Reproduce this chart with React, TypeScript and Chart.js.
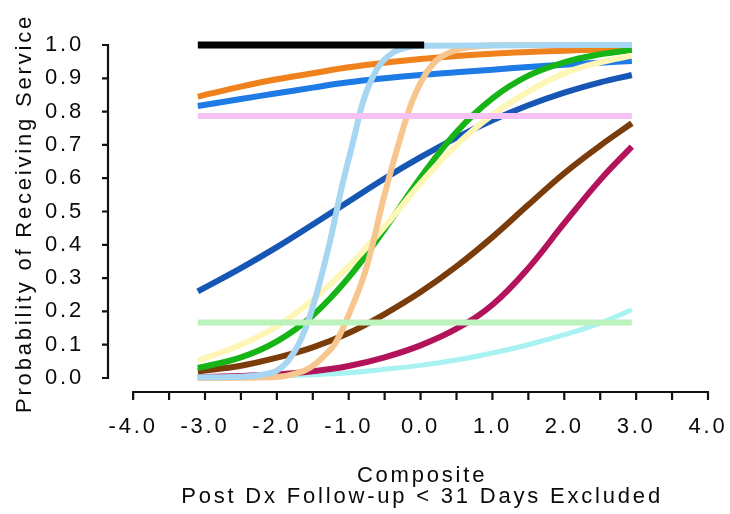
import React, { useEffect, useRef } from 'react';
import { Chart, registerables } from 'chart.js';

Chart.register(...registerables);

// ---- tick labels / axes ----
const xTickValues = [-4, -3, -2, -1, 0, 1, 2, 3, 4];
const xMinorTickValues = [-4, -3.5, -3, -2.5, -2, -1.5, -1, -0.5, 0, 0.5, 1, 1.5, 2, 2.5, 3, 3.5, 4];
const yTickValues = [0, 0.1, 0.2, 0.3, 0.4, 0.5, 0.6, 0.7, 0.8, 0.9, 1.0];
const xTitleLines = ['Composite', 'Post Dx Follow-up < 31 Days Excluded'];
const yTitle = 'Probability of Receiving Service';

// ---- series (x = Composite, y = probability) ----
const xsMain = [-3.1, -2.5, -2.0, -1.5, -1.0, -0.5, 0.0, 0.5, 1.0, 1.5, 2.0, 2.5, 2.94];
const orangeY = [0.845, 0.875, 0.897, 0.915, 0.933, 0.947, 0.958, 0.967, 0.974, 0.979, 0.983, 0.986, 0.988];
const blueY = [0.817, 0.838, 0.855, 0.872, 0.888, 0.9, 0.91, 0.918, 0.926, 0.934, 0.941, 0.947, 0.952];
const darkBlueY = [0.26, 0.33, 0.393, 0.461, 0.53, 0.599, 0.663, 0.722, 0.774, 0.819, 0.857, 0.888, 0.91];
const greenY = [0.03, 0.062, 0.11, 0.188, 0.302, 0.447, 0.602, 0.739, 0.84, 0.908, 0.948, 0.972, 0.985];
const yellowY = [0.052, 0.1, 0.155, 0.235, 0.335, 0.455, 0.585, 0.7, 0.79, 0.86, 0.915, 0.948, 0.968];
const brownY = [0.02, 0.037, 0.061, 0.092, 0.135, 0.192, 0.258, 0.335, 0.423, 0.52, 0.615, 0.698, 0.765];
const magentaY = [0.003, 0.006, 0.011, 0.02, 0.036, 0.062, 0.098, 0.148, 0.22, 0.33, 0.465, 0.595, 0.695];
const cyanY = [0.0, 0.003, 0.006, 0.01, 0.016, 0.026, 0.038, 0.054, 0.075, 0.1, 0.13, 0.165, 0.205];

const lightBlueX = [-3.1, -2.5, -2.2, -2.0, -1.85, -1.7, -1.55, -1.4, -1.25, -1.1, -0.95, -0.8, -0.6, -0.4, -0.2, 0.0, 2.94];
const lightBlueY = [0.002, 0.004, 0.01, 0.022, 0.05, 0.1, 0.18, 0.29, 0.42, 0.57, 0.7, 0.83, 0.93, 0.975, 0.992, 0.998, 1.0];

const tanX = [-3.1, -2.0, -1.8, -1.6, -1.45, -1.3, -1.2, -1.09, -0.98, -0.8, -0.68, -0.52, -0.33, -0.11, 0.16, 0.5, 0.8, 1.2, 2.94];
const tanY = [0.0, 0.003, 0.01, 0.024, 0.045, 0.075, 0.1, 0.145, 0.2, 0.3, 0.39, 0.535, 0.685, 0.835, 0.94, 0.985, 0.996, 1.0, 1.0];

const blackX = [-3.1, 0.05];
const blackY = [1.0, 1.0];
const flatX = [-3.1, 2.94];
const pinkY = [0.787, 0.787];
const lightGreenY = [0.167, 0.167];

const FONT = '"Liberation Sans", Arial, sans-serif';
const TEXT = '#0a0a0a';

const pts = (xs: number[], ys: number[]) => xs.map((x, i) => ({ x, y: ys[i] }));

// steep: use monotone interpolation; others: smooth bezier
const series = [
  { label: 'black', xs: blackX, ys: blackY, color: '#000000', w: 7, steep: true },
  { label: 'pink', xs: flatX, ys: pinkY, color: '#f6c2f4', w: 6, steep: true },
  { label: 'lightgreen', xs: flatX, ys: lightGreenY, color: '#bcf2bc', w: 6, steep: true },
  { label: 'lightblue', xs: lightBlueX, ys: lightBlueY, color: '#a6d6f2', w: 6, steep: true },
  { label: 'tan', xs: tanX, ys: tanY, color: '#f7c68e', w: 6, steep: true },
  { label: 'yellow', xs: xsMain, ys: yellowY, color: '#fdf6b6', w: 6, steep: false },
  { label: 'green', xs: xsMain, ys: greenY, color: '#16b416', w: 6, steep: false },
  { label: 'darkblue', xs: xsMain, ys: darkBlueY, color: '#1656b4', w: 6, steep: false },
  { label: 'orange', xs: xsMain, ys: orangeY, color: '#f0821e', w: 6, steep: false },
  { label: 'blue', xs: xsMain, ys: blueY, color: '#1e7ae4', w: 6, steep: false },
  { label: 'brown', xs: xsMain, ys: brownY, color: '#7b3c0b', w: 6, steep: false },
  { label: 'magenta', xs: xsMain, ys: magentaY, color: '#b3135b', w: 6, steep: false },
  { label: 'cyan', xs: xsMain, ys: cyanY, color: '#a8f2f2', w: 5, steep: false },
];

const SPACING = '2.8px';

const spacingPlugin = {
  id: 'spacing',
  beforeLayout(chart: any) { chart.ctx.letterSpacing = SPACING; },
  beforeDraw(chart: any) { chart.ctx.letterSpacing = SPACING; },
};

const axesPlugin = {
  id: 'detachedAxes',
  afterDraw(chart: any) {
    const { ctx, chartArea, scales } = chart;
    const xs = scales.x;
    const ys = scales.y;
    ctx.save();
    ctx.strokeStyle = '#111';
    ctx.lineWidth = 2.2;
    // x axis
    const yA = chartArea.bottom;
    ctx.beginPath();
    ctx.moveTo(xs.getPixelForValue(-4) - 1, yA);
    ctx.lineTo(xs.getPixelForValue(4) + 1, yA);
    xMinorTickValues.forEach((v) => {
      const p = xs.getPixelForValue(v);
      ctx.moveTo(p, yA);
      ctx.lineTo(p, yA + 8);
    });
    // y axis
    const xA = chartArea.left;
    ctx.moveTo(xA, ys.getPixelForValue(0) + 1);
    ctx.lineTo(xA, ys.getPixelForValue(1) - 1);
    yTickValues.forEach((v) => {
      const p = ys.getPixelForValue(v);
      ctx.moveTo(xA, p);
      ctx.lineTo(xA - 6, p);
    });
    ctx.stroke();

    // titles
    ctx.fillStyle = TEXT;
    ctx.font = `22px ${FONT}`;
    ctx.letterSpacing = SPACING;
    ctx.textAlign = 'center';
    ctx.textBaseline = 'middle';
    const cx = (xs.getPixelForValue(-4) + xs.getPixelForValue(4)) / 2 + 1.5;
    ctx.fillText(xTitleLines[0], cx, chartArea.bottom + 84);
    ctx.fillText(xTitleLines[1], cx, chartArea.bottom + 105);
    ctx.translate(25, (ys.getPixelForValue(0) + ys.getPixelForValue(1)) / 2 + 2);
    ctx.rotate(-Math.PI / 2);
    ctx.fillText(yTitle, 0, 0);
    ctx.restore();
  },
};

export default function App() {
  const ref = useRef<HTMLCanvasElement>(null);
  useEffect(() => {
    if (!ref.current) return;
    const chart = new Chart(ref.current, {
      type: 'line',
      data: {
        datasets: series.map((s) => ({
          label: s.label,
          data: pts(s.xs, s.ys),
          borderColor: s.color,
          backgroundColor: s.color,
          borderWidth: s.w,
          pointRadius: 0,
          fill: false,
          cubicInterpolationMode: s.steep ? ('monotone' as const) : ('default' as const),
          tension: s.steep ? 0 : 0.4,
          clip: false as any,
          borderCapStyle: 'butt' as const,
        })),
      },
      options: {
        animation: false,
        responsive: true,
        maintainAspectRatio: false,
        layout: { padding: { top: 45, right: 22, left: 0, bottom: 0 } },
        plugins: { legend: { display: false }, tooltip: { enabled: false }, title: { display: false } },
        scales: {
          x: {
            type: 'linear',
            min: -4.35,
            max: 4,
            grid: { display: false, drawTicks: false },
            border: { display: false },
            ticks: {
              autoSkip: false,
              maxRotation: 0,
              padding: 22,
              color: TEXT,
              font: { family: FONT, size: 22, lineHeight: 1.2 },
              callback: (v: any) => Number(v).toFixed(1),
            },
            afterBuildTicks: (s: any) => { s.ticks = xTickValues.map((v) => ({ value: v })); },
            afterFit: (s: any) => { s.height = 122; s.paddingLeft = 0; s.paddingRight = 0; },
          },
          y: {
            type: 'linear',
            min: -0.042,
            max: 1.0,
            grid: { display: false, drawTicks: false },
            border: { display: false },
            ticks: {
              autoSkip: false,
              padding: 24,
              color: TEXT,
              font: { family: FONT, size: 22, lineHeight: 1.2 },
              callback: (v: any) => Number(v).toFixed(1),
            },
            afterBuildTicks: (s: any) => { s.ticks = yTickValues.map((v) => ({ value: v })); },
            afterFit: (s: any) => { s.width = 108; s.paddingTop = 0; s.paddingBottom = 0; },
          },
        },
      },
      plugins: [spacingPlugin, axesPlugin],
    } as any);
    return () => chart.destroy();
  }, []);
  return (
    <div style={{ position: 'fixed', left: 0, top: 0, width: 730, height: 514, background: '#fff' }}>
      <canvas ref={ref} />
    </div>
  );
}
